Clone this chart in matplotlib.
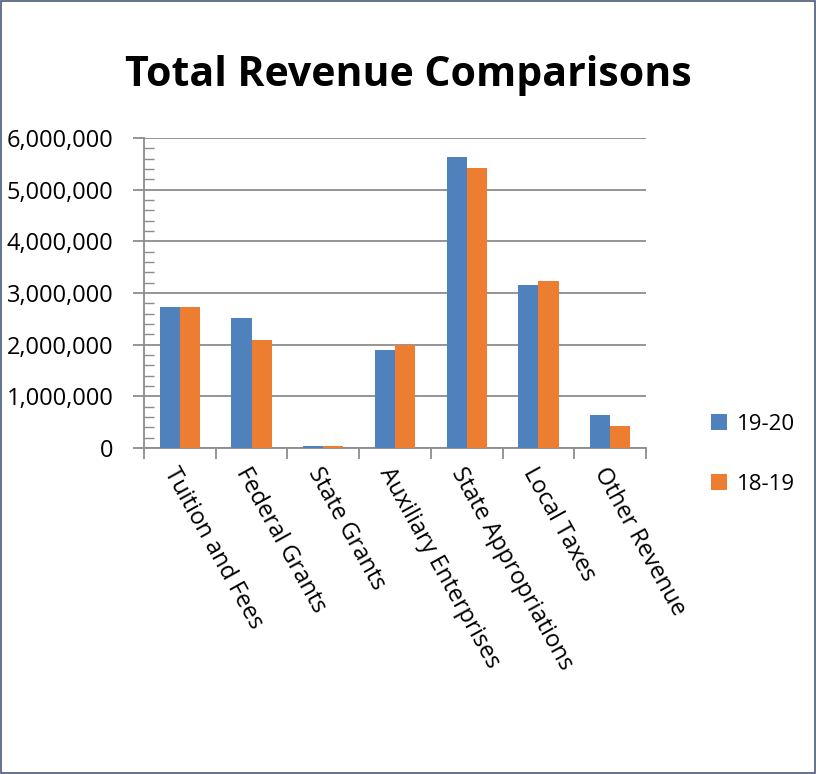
import matplotlib.pyplot as plt
from matplotlib.ticker import FuncFormatter, MultipleLocator
from matplotlib.patches import Rectangle
import numpy as np

#   chart data
categories = ['Tuition and Fees', 'Federal Grants', 'State Grants',
              'Auxiliary Enterprises', 'State Appropriations', 'Local Taxes',
              'Other Revenue']
rev_19_20 = [2730000, 2510000, 30000, 1900000, 5630000, 3155000, 630000]
rev_18_19 = [2730000, 2090000, 30000, 2000000, 5420000, 3230000, 430000]
series_labels = ['19-20', '18-19']

#   colors
blue = '#4F81BD'
orange = '#ED7D31'
grid_color = '#8C8C8C'

plt.rcParams['font.family'] = ['Open Sans', 'DejaVu Sans']

fig = plt.figure(figsize=(8.16, 7.74), dpi=100)
ax = fig.add_axes([144 / 816, 1 - 448 / 774, 502 / 816, 310 / 774])

x = np.arange(len(categories))
width = 0.28
ax.bar(x - width / 2, rev_19_20, width, color=blue, label=series_labels[0], zorder=3)
ax.bar(x + width / 2, rev_18_19, width, color=orange, label=series_labels[1], zorder=3)

#   axes
ax.set_xlim(-0.5, len(categories) - 0.5)
ax.set_ylim(0, 6000000)
ax.yaxis.set_major_locator(MultipleLocator(1000000))
ax.yaxis.set_minor_locator(MultipleLocator(200000))
ax.yaxis.set_major_formatter(FuncFormatter(lambda v, p: f'{int(v):,}'))
ax.grid(axis='y', color=grid_color, linewidth=1.3, zorder=0)

for side in ['top', 'right']:
    ax.spines[side].set_visible(False)
for side in ['left', 'bottom']:
    ax.spines[side].set_color(grid_color)
    ax.spines[side].set_linewidth(1.3)

ax.tick_params(axis='y', which='major', direction='out', length=8,
               color=grid_color, width=1.3, labelsize=17, pad=14)
ax.tick_params(axis='y', which='minor', direction='in', length=7,
               color=grid_color, width=1.0)

ax.set_xticks(np.arange(-0.5, len(categories), 1.0))
ax.set_xticklabels([])
ax.tick_params(axis='x', which='major', direction='out', length=8,
               color=grid_color, width=1.3)
ax.set_xticks(x, minor=True)
ax.set_xticklabels(categories, minor=True, rotation=-61, ha='left',
                   va='top', rotation_mode='anchor', fontsize=17)
ax.tick_params(axis='x', which='minor', length=0, pad=11)

#   title
fig.text(0.5, 1 - 76 / 774, 'Total Revenue Comparisons', ha='center',
         va='center', fontsize=29.5, fontweight='bold', color='black')

#   legend
ax.legend(loc='center left', bbox_to_anchor=(1.09, -0.02), frameon=False,
          fontsize=16, handlelength=0.7, handleheight=0.7,
          labelspacing=1.75, handletextpad=0.45)

#   border around the figure
fig.patches.append(Rectangle((0.001, 0.001), 0.998, 0.998,
                             transform=fig.transFigure, fill=False,
                             edgecolor='#4A5A78', linewidth=1.2))

plt.savefig('out.png', dpi=100)
